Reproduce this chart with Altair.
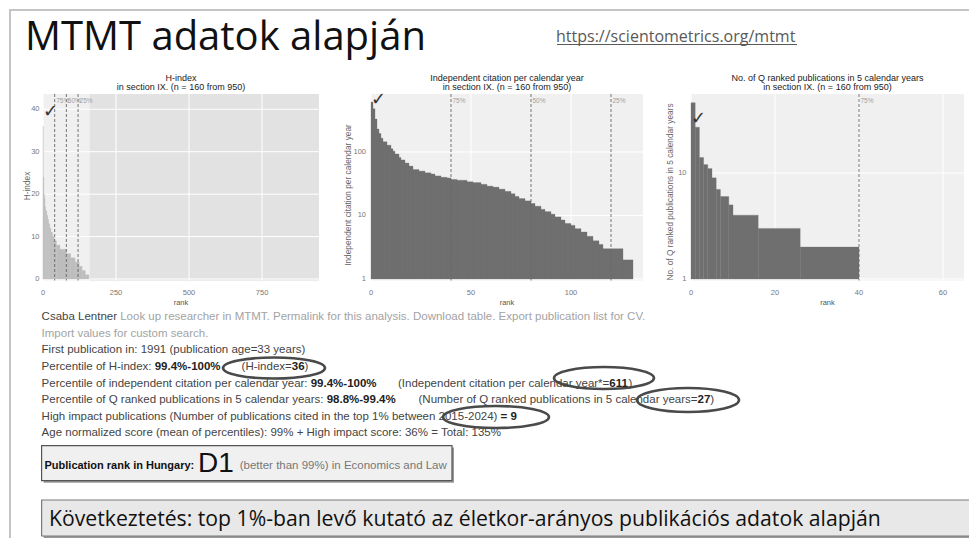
import altair as alt
import pandas as pd

OFF = 8            # page margin: reference pixel -> chart pixel
W, H = 961, 530

# ------------------------------------------------------------------ data
# H-index panel: staircase (rank from, rank to, H-index)
h_rank_from = [0, 1, 3, 5, 7, 9, 13, 16, 19, 23, 27, 33, 39, 46, 58, 80, 95, 110, 124, 134, 145]
h_rank_to   = [1, 3, 5, 7, 9, 13, 16, 19, 23, 27, 33, 39, 46, 58, 80, 95, 110, 124, 134, 145, 157]
h_index     = [36, 24, 20, 19, 17, 16, 15, 14, 13, 12, 11, 10, 9, 8, 7, 6, 5, 4, 3, 2, 1]

# Independent citation per calendar year panel (log scale)
c_rank_from = [0, 1, 2, 3, 4, 5, 6, 8, 10, 11, 12, 14, 15, 17, 19, 21, 24, 27, 30, 32, 35, 38, 40, 43, 48,
               51, 55, 58, 61, 64, 67, 70, 72, 74, 77, 80, 82, 85, 87, 90, 92, 95, 97, 100, 102, 105, 108,
               111, 114, 116, 126]
c_rank_to   = [1, 2, 3, 4, 5, 6, 8, 10, 11, 12, 14, 15, 17, 19, 21, 24, 27, 30, 32, 35, 38, 40, 43, 48, 51,
               55, 58, 61, 64, 67, 70, 72, 74, 77, 80, 82, 85, 87, 90, 92, 95, 97, 100, 102, 105, 108, 111,
               114, 116, 126, 131]
c_citations = [611, 480, 330, 230, 195, 165, 145, 128, 112, 103, 93, 82, 75, 67, 60, 53, 50, 47, 45, 42,
               40, 39, 37, 36, 34, 33, 31, 29, 28, 26, 24, 22, 20, 18.5, 17, 15.5, 14, 12.5, 11.5, 10.5,
               9.5, 8.5, 7.5, 7, 6.2, 5.5, 4.7, 4, 3.5, 3, 2]

# No. of Q ranked publications in 5 calendar years panel (log scale)
q_rank_from = [0, 1, 2, 3, 4, 5, 6, 7, 9, 10, 16, 26]
q_rank_to   = [1, 2, 3, 4, 5, 6, 7, 9, 10, 16, 26, 40]
q_pubs      = [46, 27, 14, 12, 11, 9, 7, 6, 5, 4, 3, 2]

percentile_rank  = [40, 80, 120]
percentile_label = ["75%", "50%", "25%"]
section_size = 160
person = {"h": 36, "c": 611, "q": 27}

h_x_ticks, h_y_ticks = [0, 250, 500, 750], [0, 10, 20, 30, 40]
c_x_ticks, c_y_ticks = [0, 50, 100], [1, 10, 100]
q_x_ticks, q_y_ticks = [0, 20, 40, 60], [1, 10]

panel_title = {
    "h": "H-index",
    "c": "Independent citation per calendar year",
    "q": "No. of Q ranked publications in 5 calendar years",
}
panel_subtitle = "in section IX. (n = 160 from 950)"
y_title = {
    "h": "H-index",
    "c": "Independent citation per calendar year",
    "q": "No. of Q ranked publications in 5 calendar years",
}

# ------------------------------------------------------------------ layout / style
ARIAL = "Liberation Sans"
SLIDE = "Open Sans"
PANEL_BG = "#f0f0f0"
PLOT_TOP, PLOT_BOT = 94 - OFF, 280.5 - OFF
PANELS = {
    "h": dict(x0=42, x1=318, xdom=[0, 945], ydom=[-0.35, 43.6], log=False, bar="#bdbdbd",
              ylab_x=38.5, ytitle_x=27, ytitle_y=186, check_dy=-14),
    "c": dict(x0=370, x1=642, xdom=[0, 136], ydom=[0.947, 819], log=True, bar="#6f6f6f",
              ylab_x=365, ytitle_x=348, ytitle_y=195, check_dy=-2),
    "q": dict(x0=690, x1=963, xdom=[0, 65], ydom=[0.967, 55.6], log=True, bar="#6f6f6f",
              ylab_x=685.5, ytitle_x=670, ytitle_y=192, check_dy=-8),
}
ONE = pd.DataFrame({"k": [0]})

AR = {" ": 278, "!": 278, "%": 889, "(": 333, ")": 333, "*": 389, "+": 584, ",": 278, "-": 333, ".": 278,
      "/": 278, ":": 278, "=": 584, "A": 667, "B": 667, "C": 722, "D": 722, "E": 667, "F": 611, "H": 722,
      "I": 278, "L": 556, "M": 833, "N": 722, "P": 667, "Q": 778, "T": 611, "V": 667, "X": 667,
      "a": 556, "b": 556, "c": 500, "d": 556, "e": 556, "f": 278, "g": 556, "h": 556, "i": 222, "j": 222,
      "k": 500, "l": 222, "m": 833, "n": 556, "o": 556, "p": 556, "q": 556, "r": 333, "s": 500, "t": 278,
      "u": 556, "v": 500, "w": 722, "x": 500, "y": 500, "z": 500}
AB = {" ": 278, "%": 889, "(": 333, ")": 333, "-": 333, ".": 278, ":": 333, "=": 584, "H": 722, "P": 667,
      "a": 556, "b": 611, "c": 556, "g": 611, "i": 278, "k": 556, "l": 278, "n": 611, "o": 611, "r": 389,
      "t": 333, "u": 611, "y": 556}


def tw(s, size, bold=False):
    t = AB if bold else AR
    return sum(t.get(ch, 556) for ch in s) * size / 1000.0


layers = []
rows = []


def T(x, y, text, size, color="#444", weight="normal", font=ARIAL, align="left", angle=0,
      baseline="middle"):
    rows.append(dict(x=x - OFF, y=y - OFF, text=text, size=size, color=color, weight=weight,
                     font=font, align=align, angle=angle, baseline=baseline))


def run(x, y, segs, size=11.5):
    for text, bold, color in segs:
        lead = len(text) - len(text.lstrip(" "))
        x += tw(text[:lead], size, bold)
        body = text[lead:]
        if body.strip():
            T(x, y, body, size, color, "bold" if bold else "normal")
        x += tw(body, size, bold)


def rect_px(x0, x1, y0, y1, **kw):
    return alt.Chart(ONE).mark_rect(**kw).encode(
        x=alt.value(x0 - OFF), x2=alt.value(x1 - OFF), y=alt.value(y0 - OFF), y2=alt.value(y1 - OFF))


# ------------------------------------------------------------------ slide frame
layers.append(alt.Chart(ONE).mark_rule(color="#c4c4c4", strokeWidth=2).encode(
    x=alt.value(0), x2=alt.value(W), y=alt.value(10 - OFF)))
layers.append(alt.Chart(ONE).mark_rule(color="#c4c4c4", strokeWidth=2).encode(
    x=alt.value(1), y=alt.value(10 - OFF), y2=alt.value(H)))


# ------------------------------------------------------------------ panels
def build_panel(key, r0, r1, vals, xt, yt):
    p = PANELS[key]
    xsc = alt.Scale(type="linear", domain=p["xdom"], range=[p["x0"] - OFF, p["x1"] - OFF],
                    nice=False, zero=False)
    if p["log"]:
        ysc = alt.Scale(type="log", domain=p["ydom"], range=[PLOT_BOT, PLOT_TOP], nice=False)
    else:
        ysc = alt.Scale(type="linear", domain=p["ydom"], range=[PLOT_BOT, PLOT_TOP], nice=False, zero=False)

    def X(f):
        return alt.X(f + ":Q", scale=xsc, axis=None)

    def Y(f):
        return alt.Y(f + ":Q", scale=ysc, axis=None)

    out = []
    bg = pd.DataFrame({"a": [p["xdom"][0]], "b": [p["xdom"][1]], "c": [p["ydom"][0]], "d": [p["ydom"][1]]})
    out.append(alt.Chart(bg).mark_rect(color=PANEL_BG).encode(x=X("a"), x2="b", y=Y("c"), y2="d"))
    if key == "h":
        sh = pd.DataFrame({"a": [section_size], "b": [p["xdom"][1]], "c": [p["ydom"][0]], "d": [p["ydom"][1]]})
        out.append(alt.Chart(sh).mark_rect(color="#e2e2e2").encode(x=X("a"), x2="b", y=Y("c"), y2="d"))
    gy = pd.DataFrame({"v": yt})
    gx = pd.DataFrame({"v": xt})
    out.append(alt.Chart(gy).mark_rule(color="white", strokeWidth=1).encode(
        y=Y("v"), x=alt.value(p["x0"] - OFF), x2=alt.value(p["x1"] - OFF)))
    out.append(alt.Chart(gx).mark_rule(color="white", strokeWidth=1).encode(
        x=X("v"), y=alt.value(PLOT_TOP), y2=alt.value(PLOT_BOT)))
    base = 1 if p["log"] else 0
    bars = pd.DataFrame({"r0": r0, "r1": r1, "v": vals, "base": [base] * len(vals)})
    out.append(alt.Chart(bars).mark_rect(color=p["bar"], stroke=p["bar"], strokeWidth=0.3).encode(
        x=X("r0"), x2="r1", y=Y("v"), y2="base"))
    pr = pd.DataFrame({"r": [r for r in percentile_rank if r < p["xdom"][1]],
                       "lab": [l for r, l in zip(percentile_rank, percentile_label) if r < p["xdom"][1]]})
    out.append(alt.Chart(pr).mark_rule(color="#666", strokeDash=[3, 2], strokeWidth=0.9).encode(
        x=X("r"), y=alt.value(PLOT_TOP), y2=alt.value(PLOT_BOT)))
    out.append(alt.Chart(pr).mark_text(align="left", baseline="middle", dx=1.5, fontSize=6.5,
                                       color="#a0a0a0", font=ARIAL).encode(
        x=X("r"), y=alt.value(101 - OFF), text="lab:N"))
    ck = pd.DataFrame({"r": [0], "v": [person[key]]})
    out.append(alt.Chart(ck).mark_text(text="\u2713", align="left", baseline="middle", fontSize=18,
                                       color="#333", font="DejaVu Sans", dy=p["check_dy"]).encode(
        x=X("r"), y=Y("v")))
    out.append(alt.Chart(gy).mark_text(align="right", baseline="middle", fontSize=7.5, color="#777",
                                       font=ARIAL).encode(
        y=Y("v"), x=alt.value(p["ylab_x"] - OFF), text=alt.Text("v:Q", format="d")))
    out.append(alt.Chart(gx).mark_text(align="center", baseline="middle", fontSize=7.5, color="#777",
                                       font=ARIAL).encode(
        x=X("v"), y=alt.value(293 - OFF), text=alt.Text("v:Q", format="d")))
    cx = (p["x0"] + p["x1"]) / 2
    T(cx, 77.5, panel_title[key], 9, "#222", align="center")
    T(cx, 86.5, panel_subtitle, 9, "#222", align="center")
    T(cx, 303, "rank", 7.5, "#555", align="center")
    T(p["ytitle_x"], p["ytitle_y"], y_title[key], 8.3, "#666", align="center", angle=270)
    return out


layers += build_panel("h", h_rank_from, h_rank_to, h_index, h_x_ticks, h_y_ticks)
layers += build_panel("c", c_rank_from, c_rank_to, c_citations, c_x_ticks, c_y_ticks)
layers += build_panel("q", q_rank_from, q_rank_to, q_pubs, q_x_ticks, q_y_ticks)

# ------------------------------------------------------------------ header
T(24, 50, "MTMT adatok alapján", 40, "#111", font=SLIDE, baseline="alphabetic")
T(555, 42, "https://scientometrics.org/mtmt", 16, "#595959", font=SLIDE, baseline="alphabetic")
layers.append(alt.Chart(ONE).mark_rule(color="#595959", strokeWidth=1).encode(
    x=alt.value(556 - OFF), x2=alt.value(796 - OFF), y=alt.value(44.5 - OFF)))

# ------------------------------------------------------------------ text block
DK, LT, BK = "#444", "#a3a3a3", "#222"
L0 = 40.6
run(L0, 317, [("Csaba Lentner", False, DK),
              (" Look up researcher in MTMT. Permalink for this analysis. Download table. Export publication list for CV.", False, LT)])
run(L0, 333.5, [("Import values for custom search.", False, LT)])
run(L0, 350, [("First publication in: 1991 (publication age=33 years)", False, DK)])
run(L0, 367, [("Percentile of H-index: ", False, DK), ("99.4%-100%", True, BK)])
run(240.6, 367, [("(H-index=", False, DK), ("36", True, BK), (")", False, DK)])
run(L0, 383.5, [("Percentile of independent citation per calendar year: ", False, DK), ("99.4%-100%", True, BK)])
run(397, 383.5, [("(Independent citation per calendar year*=", False, DK), ("611", True, BK), (")", False, DK)])
run(L0, 400, [("Percentile of Q ranked publications in 5 calendar years: ", False, DK), ("98.8%-99.4%", True, BK)])
run(417.5, 400, [("(Number of Q ranked publications in 5 calendar years=", False, DK), ("27", True, BK), (")", False, DK)])
run(L0, 416.5, [("High impact publications (Number of publications cited in the top 1% between 2015-2024) ", False, DK),
                ("= 9", True, BK)])
run(L0, 433, [("Age normalized score (mean of percentiles): 99% + High impact score: 36% = Total: 135%", False, DK)])

# hand-drawn ellipses
ELLIPSES = [(273, 368, 51, 10.5), (603, 378, 50, 11), (687, 400, 51, 12), (495, 417, 53, 11)]
for cx, cy, rx, ry in ELLIPSES:
    a = ry / rx
    path = f"M -1 0 A 1 {a:.3f} 0 1 1 1 0 A 1 {a:.3f} 0 1 1 -1 0 Z"
    layers.append(alt.Chart(ONE).mark_point(shape=path, filled=False, stroke="#4a4a4a", strokeWidth=2.6,
                                            size=4 * rx * rx, opacity=1).encode(
        x=alt.value(cx - OFF), y=alt.value(cy - OFF)))

# publication rank box
layers.append(rect_px(42.6, 453, 447.6, 482.7, color="#9a9a9a"))
layers.append(rect_px(40.6, 451, 445.6, 480.7, fill="#f0f0f0", stroke="#555", strokeWidth=1.2))
T(43.5, 466, "Publication rank in Hungary:", 11, "#111", weight="bold")
T(197, 472, "D1", 28, "#111", baseline="alphabetic")
T(238.7, 466, "(better than 99%) in Economics and Law", 11.5, "#777")

# conclusion box
layers.append(rect_px(42.6, 971, 502, 538, color="#9a9a9a"))
layers.append(rect_px(40.6, 969, 500, 536, fill="#e8e8e8", stroke="#7a7a7a", strokeWidth=1.2))
T(48, 526, "Következtetés: top 1%-ban levő kutató az életkor-arányos publikációs adatok alapján", 21.2,
  "#111", font=SLIDE, baseline="alphabetic")

# ------------------------------------------------------------------ text layers
tdf = pd.DataFrame(rows)
for (w, f, a, ang, bl), g in tdf.groupby(["weight", "font", "align", "angle", "baseline"]):
    g = g.reset_index(drop=True)
    layers.append(alt.Chart(g).mark_text(baseline=str(bl), align=str(a), font=str(f), fontWeight=str(w),
                                         angle=int(ang)).encode(
        x=alt.X("x:Q", scale=None, axis=None),
        y=alt.Y("y:Q", scale=None, axis=None),
        text="text:N",
        color=alt.Color("color:N", scale=None),
        size=alt.Size("size:Q", scale=None)))

chart = alt.layer(*layers).resolve_scale(
    x="independent", y="independent", color="independent", size="independent"
).properties(
    width=W, height=H, padding=0, background="white",
    autosize=alt.AutoSizeParams(type="fit", contains="padding"),
).configure_view(stroke=None)

chart.save("out.html", embed_options={"renderer": "svg", "actions": False})
